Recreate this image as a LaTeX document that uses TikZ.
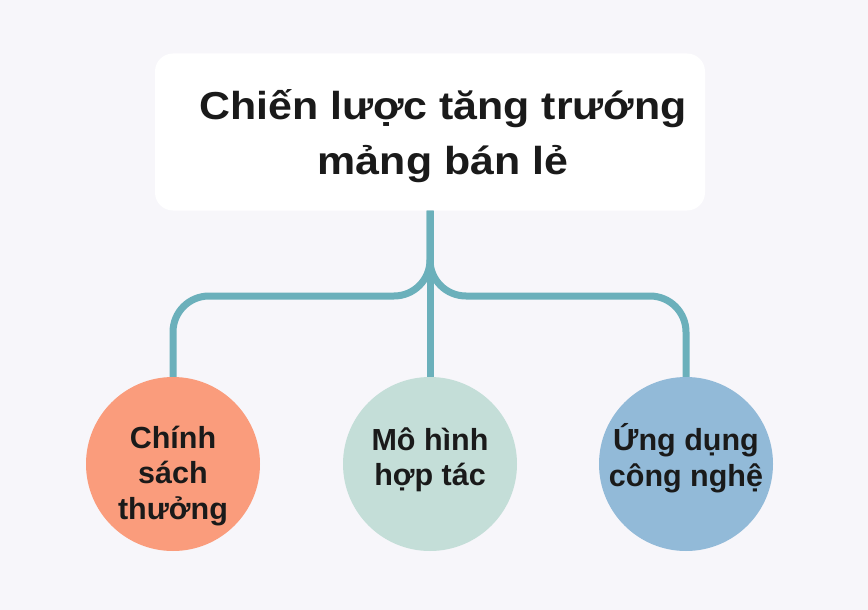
\documentclass[tikz,border=0pt]{standalone}
\usepackage{fontspec}
\setmainfont{Liberation Sans}
\newfontfamily\titlefont{Liberation Sans}[FakeStretch=1.1]
\usepackage{tikz}

\definecolor{bgcol}{HTML}{F7F6FA}
\definecolor{linkcol}{HTML}{6BB0BB}
\definecolor{salmon}{HTML}{FA9C7C}
\definecolor{mint}{HTML}{C4DED8}
\definecolor{skyblue}{HTML}{92BAD8}
\definecolor{inkcol}{HTML}{1A1A1A}

\tikzset{
  titlebox/.style={fill=white, rounded corners=18pt, minimum width=550pt, minimum height=157pt},
  bubble/.style={circle, minimum size=174pt, inner sep=0pt},
  bubbletext/.style={align=center, text=inkcol, font=\bfseries\fontsize{30.5}{35.5}\selectfont},
  link/.style={draw=linkcol, line width=7pt, rounded corners=36pt}
}

\begin{document}
\begin{tikzpicture}[x=1pt, y=-1pt]
        % Background
        \fill[bgcol] (0,0) rectangle (868,610);
        \useasboundingbox (0,0) rectangle (868,610);

        % Title
        \node[titlebox] (title) at (430,132) {};
        \node[align=center, text=inkcol, font=\titlefont\bfseries\fontsize{39}{55}\selectfont] (titletext) at (443,136)
              {Chiến lược tăng trướng\\mảng bán lẻ};

        % Circles
        \node[bubble, fill=salmon] (left) at (173,464) {};
        \node[bubble, fill=mint] (mid) at (430,464) {};
        \node[bubble, fill=skyblue] (right) at (686,464) {};
        \node[bubbletext] (lefttext) at (173,476) {Chính\\sách\\thưởng};
        \node[bubbletext] (midtext) at (430,460) {Mô hình\\hợp tác};
        \node[bubbletext] (righttext) at (686,458) {Ứng dụng\\công nghệ};

        % Edges
        \coordinate (hub) at (430,296);
        \draw[link] (title.south) -- (hub) -- (hub -| left.north) -- (left.north);
        \draw[link] (title.south) -- (hub) -- (hub -| right.north) -- (right.north);
        \draw[link] (title.south) -- (mid.north);
\end{tikzpicture}
\end{document}
